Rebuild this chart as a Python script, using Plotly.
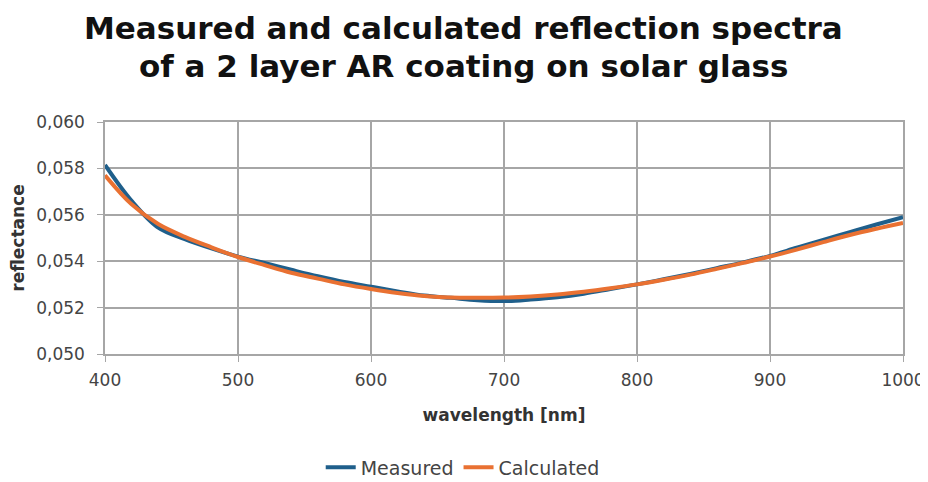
import plotly.graph_objects as go

wavelength = [400, 420, 440, 460, 480, 500, 520, 540, 560, 580, 600, 620, 640, 660, 680,
              700, 720, 740, 760, 780, 800, 820, 840, 860, 880, 900, 920, 940, 960, 980, 1000]
measured = [0.05815, 0.05660, 0.05545, 0.05495, 0.05455, 0.05420, 0.05392, 0.05363, 0.05335,
            0.05310, 0.05290, 0.05270, 0.05252, 0.05242, 0.05232, 0.05228, 0.05235, 0.05245,
            0.05260, 0.05280, 0.05300, 0.05322, 0.05345, 0.05370, 0.05395, 0.05423, 0.05458,
            0.05492, 0.05525, 0.05558, 0.05590]
calculated = [0.05770, 0.05645, 0.05560, 0.05505, 0.05460, 0.05418, 0.05383, 0.05350, 0.05325,
              0.05300, 0.05280, 0.05263, 0.05250, 0.05243, 0.05242, 0.05243, 0.05248, 0.05256,
              0.05268, 0.05283, 0.05300, 0.05320, 0.05342, 0.05367, 0.05393, 0.05420, 0.05450,
              0.05482, 0.05513, 0.05540, 0.05565]
x_ticks = [400, 500, 600, 700, 800, 900, 1000]
y_ticks = [0.050, 0.052, 0.054, 0.056, 0.058, 0.060]
title_lines = ["Measured and calculated reflection spectra",
               "of a 2 layer AR coating on solar glass"]

fig = go.Figure()
fig.add_trace(go.Scatter(x=wavelength, y=measured, name="Measured", mode="lines",
                         line=dict(color="#1F5F8B", width=4, shape="spline")))
fig.add_trace(go.Scatter(x=wavelength, y=calculated, name="Calculated", mode="lines",
                         line=dict(color="#E97132", width=4, shape="spline")))

grid = "#A6A6A6"
fig.update_layout(
    width=928, height=482,
    paper_bgcolor="white", plot_bgcolor="white",
    separators=",.",
    margin=dict(l=97, r=33, t=114, b=136),
    font=dict(family="DejaVu Sans", color="#444444"),
    showlegend=True,
    legend=dict(orientation="h", xref="container", yref="container",
                x=0.49, xanchor="center", y=0.047, yanchor="middle",
                font=dict(size=19, color="#444444")),
    xaxis=dict(range=[400, 1000], tickvals=x_ticks, showgrid=True, gridcolor=grid, gridwidth=1.5,
               zeroline=False, showline=True, linecolor=grid, linewidth=1.5, mirror=True,
               ticks="outside", ticklen=6, tickcolor=grid, ticklabelstandoff=4, automargin=False,
               tickfont=dict(size=17, color="#444444"),
               title=dict(text="<b>wavelength [nm]</b>", font=dict(size=17, color="#333333"), standoff=20)),
    yaxis=dict(range=[0.050, 0.060], tickvals=y_ticks, tickformat=".3f", showgrid=True, gridcolor=grid,
               gridwidth=1.5, zeroline=False, showline=True, linecolor=grid, linewidth=1.5, mirror=True,
               ticks="outside", ticklen=6, tickcolor=grid, ticklabelstandoff=9, automargin=False,
               tickfont=dict(size=17, color="#444444"),
               title=dict(text="<b>reflectance</b>", font=dict(size=17, color="#333333"), standoff=10)),
)
for line_text, ypos in zip(title_lines, [1.407, 1.241]):
    fig.add_annotation(
        text="<b>" + line_text + "</b>",
        xref="paper", yref="paper", x=0.449, y=ypos, xanchor="center", yanchor="middle",
        showarrow=False, font=dict(family="DejaVu Sans", size=31, color="#111111"),
    )

fig.write_html("out.html")
